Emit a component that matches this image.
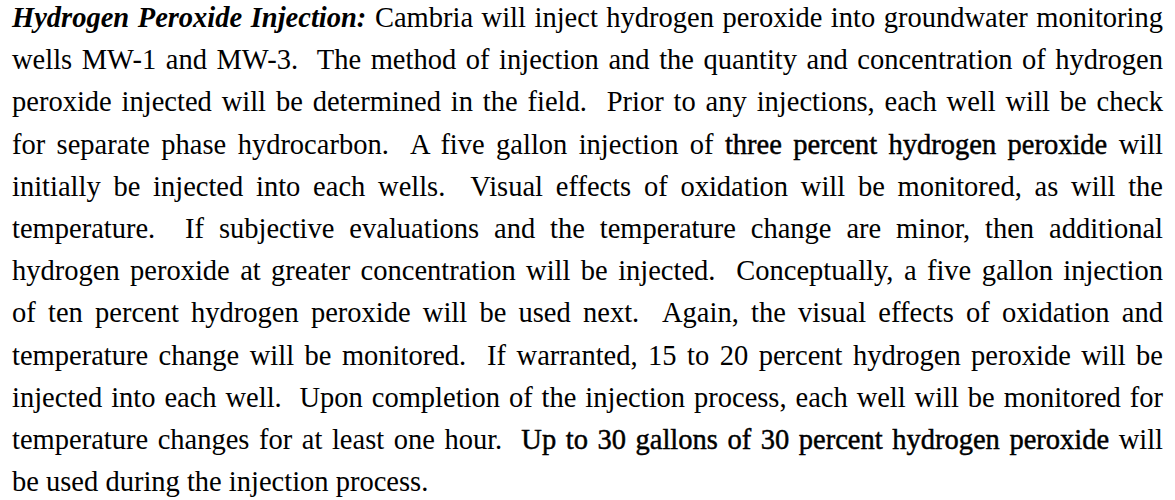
import React from 'react';

// Each line of the scanned paragraph, split into runs: 'bi' = bold italic, 'b' = heavier print, '' = plain
type Run = { text: string; emph: '' | 'b' | 'bi' };

const LINE_1: Run[] = [
  { text: 'Hydrogen Peroxide Injection:', emph: 'bi' },
  { text: ' Cambria will inject hydrogen peroxide into groundwater monitoring', emph: '' },
];
const LINE_2: Run[] = [
  { text: 'wells MW-1 and MW-3.  The method of injection and the quantity and concentration of hydrogen', emph: '' },
];
const LINE_3: Run[] = [
  { text: 'peroxide injected will be determined in the field.  Prior to any injections, each well will be check', emph: '' },
];
const LINE_4: Run[] = [
  { text: 'for separate phase hydrocarbon.  A five gallon injection of ', emph: '' },
  { text: 'three percent hydrogen peroxide', emph: 'b' },
  { text: ' will', emph: '' },
];
const LINE_5: Run[] = [
  { text: 'initially be injected into each wells.  Visual effects of oxidation will be monitored, as will the', emph: '' },
];
const LINE_6: Run[] = [
  { text: 'temperature.  If subjective evaluations and the temperature change are minor, then additional', emph: '' },
];
const LINE_7: Run[] = [
  { text: 'hydrogen peroxide at greater concentration will be injected.  Conceptually, a five gallon injection', emph: '' },
];
const LINE_8: Run[] = [
  { text: 'of ten percent hydrogen peroxide will be used next.  Again, the visual effects of oxidation and', emph: '' },
];
const LINE_9: Run[] = [
  { text: 'temperature change will be monitored.  If warranted, 15 to 20 percent hydrogen peroxide will be', emph: '' },
];
const LINE_10: Run[] = [
  { text: 'injected into each well.  Upon completion of the injection process, each well will be monitored for', emph: '' },
];
const LINE_11: Run[] = [
  { text: 'temperature changes for at least one hour.  ', emph: '' },
  { text: 'Up to 30 gallons of 30 percent hydrogen peroxide', emph: 'b' },
  { text: ' will', emph: '' },
];
const LINE_12: Run[] = [
  { text: 'be used during the injection process.', emph: '' },
];

const LINES = [LINE_1, LINE_2, LINE_3, LINE_4, LINE_5, LINE_6, LINE_7, LINE_8, LINE_9, LINE_10, LINE_11, LINE_12];

const LINE_HEIGHT = 42.2;

const runStyle = (emph: Run['emph']): React.CSSProperties => {
  if (emph === 'bi') return { fontWeight: 'bold', fontStyle: 'italic' };
  if (emph === 'b') return { WebkitTextStroke: '0.45px #000' };
  return {};
};

export default function App() {
  return (
    <div
      style={{
        position: 'fixed',
        left: 0,
        top: 0,
        width: 1175,
        height: 500,
        overflow: 'hidden',
        background: '#fff',
      }}
    >
      <div
        style={{
          position: 'absolute',
          left: 12,
          top: -3,
          width: 1151,
          fontFamily: '"Liberation Serif", "Times New Roman", serif',
          fontSize: 28.5,
          color: '#000',
        }}
      >
        {LINES.map((line, i) => (
          <div
            key={`line-${i}`}
            style={{
              height: LINE_HEIGHT,
              lineHeight: `${LINE_HEIGHT}px`,
              textAlign: 'justify',
              textAlignLast: i === LINES.length - 1 ? 'left' : 'justify',
              whiteSpace: 'pre-wrap',
            }}
          >
            {line.map((run, j) => (
              <span key={`run-${i}-${j}`} style={runStyle(run.emph)}>
                {run.text}
              </span>
            ))}
          </div>
        ))}
      </div>
    </div>
  );
}
